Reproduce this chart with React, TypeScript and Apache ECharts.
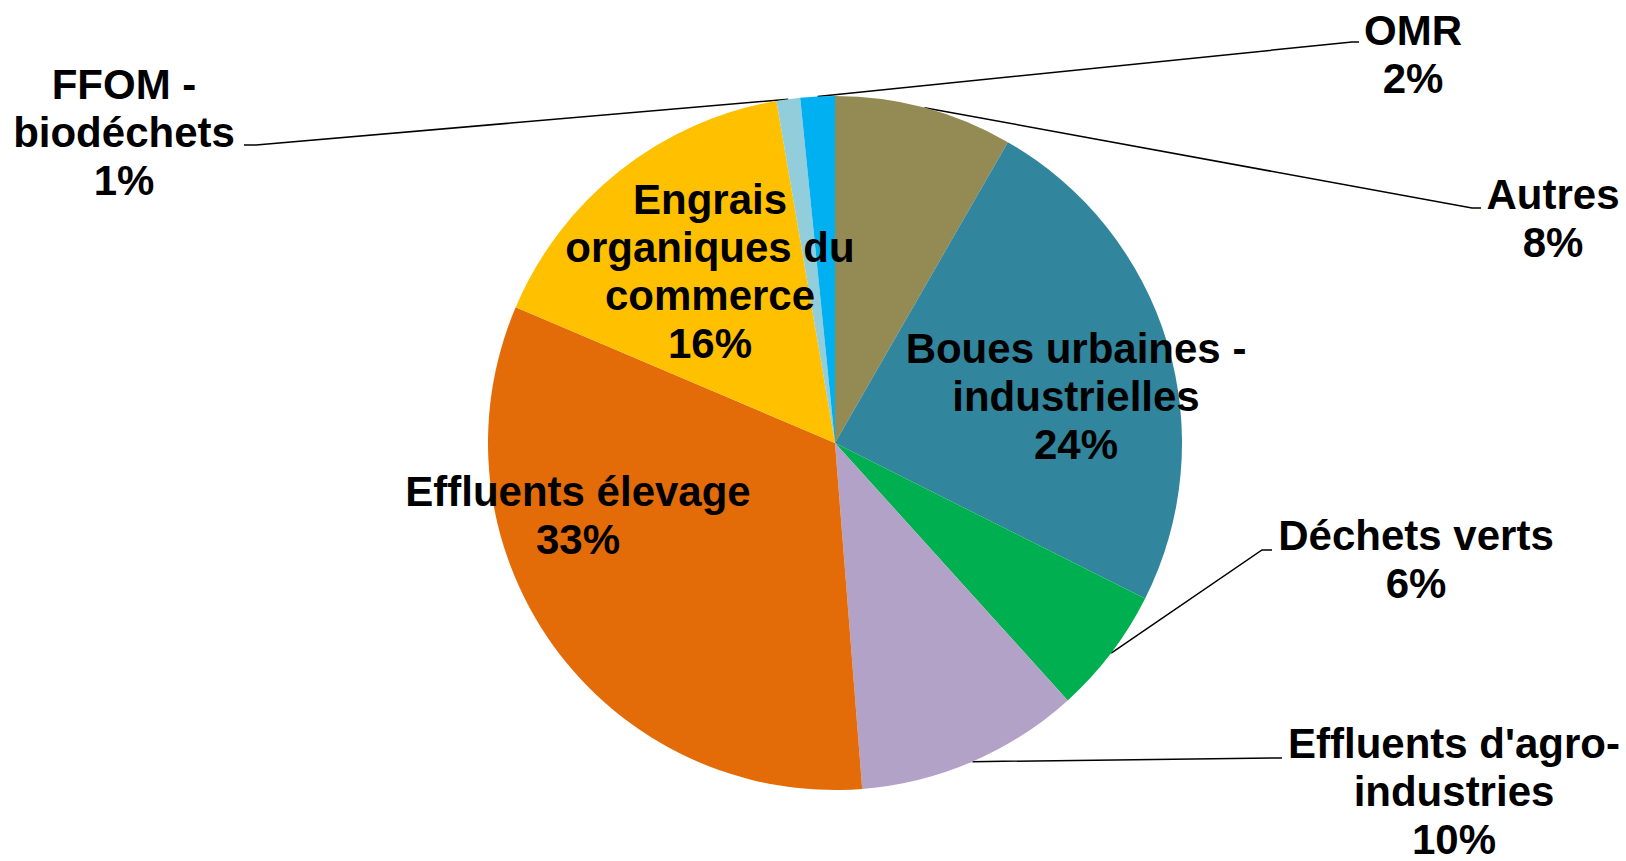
import React, { useEffect, useRef } from "react";
import * as echarts from "echarts";

const categories = [
  "Autres",
  "Boues urbaines - industrielles",
  "Déchets verts",
  "Effluents d'agro-industries",
  "Effluents élevage",
  "Engrais organiques du commerce",
  "FFOM - biodéchets",
  "OMR",
];
const labelTexts = [
  "Autres",
  "Boues urbaines -\nindustrielles",
  "Déchets verts",
  "Effluents d'agro-\nindustries",
  "Effluents élevage",
  "Engrais\norganiques du\ncommerce",
  "FFOM -\nbiodéchets",
  "OMR",
];
const values = [8.3, 24.1, 5.9, 10.45, 32.65, 15.9, 1.1, 1.6];
const colors = ["#948A54", "#31859C", "#00B050", "#B3A2C7", "#E36C09", "#FFC000", "#92CDDC", "#00B0F0"];
const insideLabel = [false, true, false, false, true, true, false, false];

// layout (pixels)
const CX = 835;
const CY = 443;
const R = 347;
const labelCenters: [number, number][] = [
  [1553, 218],
  [1076, 396],
  [1416, 559],
  [1454, 791],
  [578, 515],
  [710, 271],
  [124, 132],
  [1413, 54],
];
const lineElbows: ([number, number] | null)[] = [
  [1472, 208],
  null,
  [1262, 550],
  [1275, 758],
  null,
  null,
  [256, 145],
  [1352, 42],
];
const lineEnds: ([number, number] | null)[] = [
  [1481, 208],
  null,
  [1272, 550],
  [1282, 758],
  null,
  null,
  [244, 145],
  [1359, 42],
];

export default function App() {
  const ref = useRef<HTMLDivElement>(null);
  useEffect(() => {
    if (!ref.current) return;
    const chart = echarts.init(ref.current, undefined, { renderer: "svg" });
    const total = values.reduce((a, b) => a + b, 0);
    const midAngles: number[] = [];
    let acc = 0;
    values.forEach((v) => {
      midAngles.push(((acc + v / 2) / total) * Math.PI * 2);
      acc += v;
    });
    const data = categories.map((name, i) => ({
      name,
      value: values[i],
      itemStyle: { color: colors[i] },
      label: { position: insideLabel[i] ? "inside" : "outside" },
      labelLine: { show: !insideLabel[i] },
    }));
    chart.setOption({
      animation: false,
      backgroundColor: "#ffffff",
      series: [
        {
          type: "pie",
          center: [CX, CY],
          radius: R,
          startAngle: 90,
          clockwise: true,
          avoidLabelOverlap: false,
          data,
          itemStyle: { borderWidth: 0 },
          label: {
            show: true,
            color: "#000000",
            fontFamily: "'Liberation Sans', Arial, sans-serif",
            fontWeight: "bold",
            fontSize: 42,
            lineHeight: 48,
            align: "center",
            formatter: (p: any) =>
              labelTexts[p.dataIndex] + "\n" + Math.round((values[p.dataIndex] / total) * 100) + "%",
          },
          labelLine: {
            show: true,
            lineStyle: { color: "#000000", width: 1.5 },
          },
          labelLayout: (p: any) => {
            const i = p.dataIndex;
            const [x, y] = labelCenters[i];
            const res: any = { x, y, align: "center", verticalAlign: "middle" };
            if (!insideLabel[i]) {
              const a = midAngles[i];
              const start = [CX + R * Math.sin(a), CY - R * Math.cos(a)];
              res.labelLinePoints = [start, lineElbows[i], lineEnds[i]];
            }
            return res;
          },
        },
      ],
    });
    return () => chart.dispose();
  }, []);
  return (
    <div
      ref={ref}
      style={{ position: "fixed", left: 0, top: 0, width: 1626, height: 861, background: "#fff" }}
    />
  );
}
